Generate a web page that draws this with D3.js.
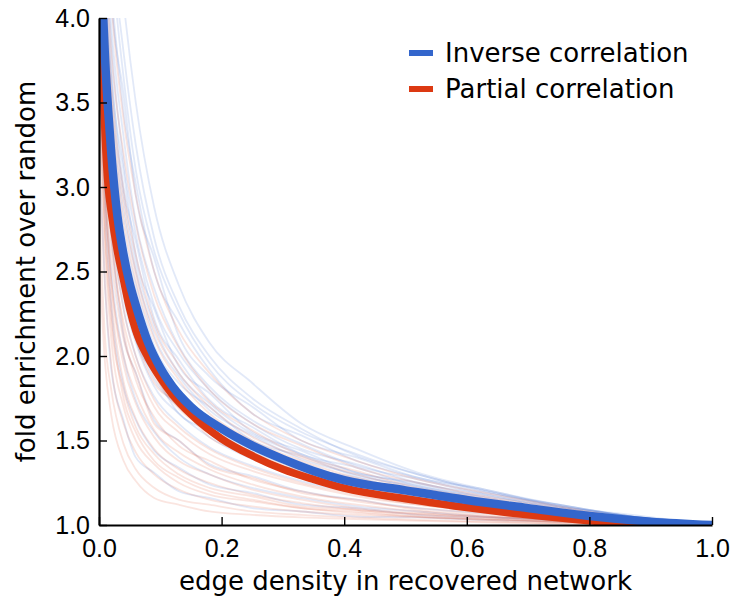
<!DOCTYPE html>
<html>
<head>
<meta charset="utf-8">
<script src="https://cdn.jsdelivr.net/npm/d3@7"></script>
<style>
  body { margin: 0; background: #fff; }
  svg { display: block; font-family: "DejaVu Sans", sans-serif; }
</style>
</head>
<body>
<div id="wrapper"></div>
<script>
// 1. Data

const meanX = [0, 0.005, 0.01, 0.015, 0.02, 0.03, 0.04, 0.05, 0.06, 0.08, 0.1, 0.12,
  0.15, 0.2, 0.25, 0.3, 0.35, 0.4, 0.5, 0.6, 0.7, 0.8, 0.9, 1.0]
const inverseMean = [4.6, 4.15, 3.75, 3.45, 3.2, 2.83, 2.6, 2.43, 2.3, 2.08, 1.93, 1.82,
  1.7, 1.57, 1.47, 1.39, 1.32, 1.265, 1.205, 1.148, 1.1, 1.053, 1.02, 1.0]
const partialMean = [4.3, 3.75, 3.3, 3.0, 2.85, 2.62, 2.45, 2.28, 2.15, 1.99, 1.87, 1.77,
  1.655, 1.51, 1.41, 1.33, 1.27, 1.218, 1.155, 1.103, 1.06, 1.025, 1.0, 1.0]

// individual runs, sampled on a coarser grid
const traceX = [0, 0.01, 0.02, 0.04, 0.06, 0.09, 0.13, 0.18, 0.25, 0.33, 0.42, 0.52, 0.63, 0.75, 0.87, 1.0]

const inverseTraces = [
  [6.0, 5.4, 4.9, 4.1, 3.5, 2.88, 2.42, 2.08, 1.84, 1.6, 1.45, 1.31, 1.21, 1.12, 1.05, 1.0],
  [5.8, 5.1, 4.5, 3.8, 3.25, 2.7, 2.3, 2.0, 1.75, 1.57, 1.41, 1.3, 1.2, 1.11, 1.05, 1.0],
  [5.7, 5.0, 4.4, 3.65, 3.1, 2.62, 2.26, 1.96, 1.72, 1.55, 1.42, 1.3, 1.2, 1.12, 1.05, 1.0],
  [5.6, 4.8, 4.2, 3.45, 3.02, 2.5, 2.2, 1.92, 1.66, 1.53, 1.38, 1.28, 1.19, 1.12, 1.05, 1.0],
  [5.5, 4.7, 4.1, 3.55, 2.95, 2.58, 2.12, 1.88, 1.7, 1.5, 1.4, 1.28, 1.21, 1.11, 1.06, 1.0],
  [5.4, 4.5, 3.95, 3.3, 2.8, 2.4, 2.06, 1.82, 1.62, 1.48, 1.35, 1.27, 1.18, 1.11, 1.05, 1.0],
  [5.3, 4.4, 3.85, 3.15, 2.72, 2.3, 2.02, 1.8, 1.6, 1.45, 1.36, 1.25, 1.18, 1.1, 1.04, 1.0],
  [5.2, 4.3, 3.7, 3.0, 2.68, 2.22, 1.98, 1.74, 1.58, 1.42, 1.34, 1.23, 1.17, 1.1, 1.04, 1.0],
  [5.1, 4.2, 3.65, 3.1, 2.6, 2.28, 1.94, 1.78, 1.55, 1.44, 1.31, 1.25, 1.16, 1.09, 1.045, 1.0],
  [5.0, 4.1, 3.55, 2.95, 2.55, 2.18, 1.9, 1.72, 1.54, 1.42, 1.31, 1.24, 1.15, 1.09, 1.04, 1.0],
  [5.0, 4.0, 3.45, 2.85, 2.5, 2.12, 1.88, 1.68, 1.53, 1.39, 1.3, 1.22, 1.15, 1.09, 1.04, 1.0],
  [4.9, 4.0, 3.4, 2.75, 2.42, 2.06, 1.84, 1.7, 1.5, 1.41, 1.29, 1.23, 1.14, 1.09, 1.04, 1.0],
  [4.8, 3.8, 3.25, 2.62, 2.34, 1.98, 1.8, 1.62, 1.47, 1.37, 1.26, 1.2, 1.13, 1.08, 1.035, 1.0],
  [4.9, 3.9, 3.2, 2.7, 2.28, 2.03, 1.76, 1.64, 1.49, 1.35, 1.28, 1.19, 1.14, 1.07, 1.03, 1.0],
  [4.7, 3.7, 3.15, 2.58, 2.25, 1.98, 1.75, 1.6, 1.48, 1.34, 1.27, 1.19, 1.13, 1.07, 1.03, 1.0],
  [4.6, 3.6, 3.05, 2.5, 2.22, 1.92, 1.72, 1.58, 1.44, 1.33, 1.25, 1.18, 1.12, 1.07, 1.03, 1.0],
  [4.4, 3.5, 2.9, 2.35, 2.08, 1.82, 1.66, 1.52, 1.39, 1.3, 1.22, 1.15, 1.1, 1.06, 1.02, 1.0],
  [4.4, 3.45, 2.95, 2.4, 2.12, 1.86, 1.7, 1.55, 1.42, 1.31, 1.23, 1.17, 1.11, 1.06, 1.025, 1.0],
  [4.5, 3.35, 2.9, 2.46, 2.1, 1.9, 1.66, 1.56, 1.4, 1.32, 1.22, 1.16, 1.1, 1.06, 1.02, 1.0],
  [4.3, 3.3, 2.8, 2.28, 2.0, 1.76, 1.6, 1.46, 1.35, 1.26, 1.19, 1.13, 1.09, 1.05, 1.02, 1.0],
  [4.2, 3.25, 2.72, 2.12, 1.9, 1.62, 1.5, 1.36, 1.29, 1.2, 1.15, 1.1, 1.07, 1.04, 1.02, 1.0],
  [3.9, 3.0, 2.5, 2.0, 1.74, 1.55, 1.4, 1.3, 1.22, 1.16, 1.11, 1.08, 1.05, 1.03, 1.015, 1.0],
  [3.7, 2.85, 2.3, 1.82, 1.62, 1.44, 1.34, 1.24, 1.19, 1.12, 1.1, 1.06, 1.045, 1.03, 1.01, 1.0],
  [3.2, 2.4, 1.92, 1.62, 1.4, 1.31, 1.2, 1.16, 1.1, 1.08, 1.05, 1.045, 1.03, 1.02, 1.01, 1.0],
]

const partialTraces = [
  [5.5, 4.7, 4.1, 3.4, 2.95, 2.5, 2.15, 1.9, 1.66, 1.5, 1.38, 1.27, 1.19, 1.11, 1.04, 1.0],
  [5.3, 4.4, 3.8, 3.2, 2.78, 2.36, 2.05, 1.8, 1.6, 1.47, 1.34, 1.25, 1.17, 1.1, 1.04, 1.0],
  [5.1, 4.2, 3.6, 2.98, 2.6, 2.2, 1.95, 1.73, 1.56, 1.41, 1.32, 1.22, 1.16, 1.08, 1.03, 1.0],
  [5.0, 4.1, 3.5, 2.9, 2.5, 2.15, 1.9, 1.7, 1.52, 1.4, 1.3, 1.21, 1.14, 1.08, 1.03, 1.0],
  [4.9, 3.95, 3.4, 2.8, 2.45, 2.1, 1.86, 1.66, 1.5, 1.38, 1.28, 1.2, 1.13, 1.07, 1.03, 1.0],
  [4.8, 3.85, 3.3, 2.7, 2.38, 2.02, 1.8, 1.63, 1.48, 1.36, 1.27, 1.2, 1.12, 1.07, 1.02, 1.0],
  [4.7, 3.7, 3.2, 2.6, 2.3, 1.96, 1.78, 1.6, 1.46, 1.34, 1.25, 1.19, 1.12, 1.06, 1.02, 1.0],
  [4.6, 3.55, 3.05, 2.52, 2.2, 1.94, 1.72, 1.57, 1.43, 1.32, 1.24, 1.17, 1.11, 1.05, 1.02, 1.0],
  [4.5, 3.5, 3.0, 2.45, 2.18, 1.9, 1.7, 1.56, 1.42, 1.31, 1.24, 1.16, 1.1, 1.05, 1.02, 1.0],
  [4.4, 3.4, 2.95, 2.42, 2.14, 1.88, 1.69, 1.55, 1.41, 1.3, 1.23, 1.16, 1.1, 1.05, 1.02, 1.0],
  [4.3, 3.45, 2.9, 2.38, 2.1, 1.84, 1.72, 1.52, 1.42, 1.29, 1.21, 1.15, 1.1, 1.06, 1.02, 1.0],
  [4.3, 3.3, 2.82, 2.28, 2.0, 1.74, 1.58, 1.45, 1.34, 1.25, 1.18, 1.12, 1.08, 1.04, 1.01, 1.0],
  [4.2, 3.3, 2.75, 2.15, 1.86, 1.64, 1.47, 1.38, 1.27, 1.2, 1.14, 1.1, 1.07, 1.04, 1.01, 1.0],
  [4.1, 3.2, 2.7, 2.2, 1.95, 1.7, 1.55, 1.42, 1.32, 1.24, 1.17, 1.12, 1.08, 1.04, 1.01, 1.0],
  [4.0, 3.1, 2.6, 2.1, 1.9, 1.6, 1.5, 1.35, 1.28, 1.19, 1.15, 1.09, 1.06, 1.03, 1.01, 1.0],
  [3.9, 3.0, 2.45, 1.95, 1.72, 1.52, 1.38, 1.3, 1.21, 1.15, 1.1, 1.07, 1.05, 1.03, 1.01, 1.0],
  [3.8, 2.95, 2.45, 2.0, 1.78, 1.56, 1.43, 1.33, 1.24, 1.17, 1.12, 1.08, 1.05, 1.03, 1.01, 1.0],
  [3.7, 2.9, 2.35, 1.85, 1.63, 1.45, 1.33, 1.25, 1.18, 1.13, 1.09, 1.065, 1.045, 1.03, 1.01, 1.0],
  [3.6, 2.7, 2.2, 1.8, 1.58, 1.42, 1.3, 1.22, 1.17, 1.11, 1.09, 1.06, 1.04, 1.02, 1.01, 1.0],
  [3.5, 2.75, 2.25, 1.75, 1.55, 1.38, 1.28, 1.2, 1.15, 1.1, 1.08, 1.05, 1.035, 1.02, 1.01, 1.0],
  [3.4, 2.6, 2.1, 1.7, 1.5, 1.36, 1.25, 1.18, 1.14, 1.1, 1.07, 1.05, 1.03, 1.02, 1.01, 1.0],
  [3.2, 2.4, 1.95, 1.6, 1.43, 1.3, 1.21, 1.15, 1.11, 1.08, 1.06, 1.045, 1.03, 1.02, 1.01, 1.0],
  [2.9, 2.1, 1.8, 1.48, 1.33, 1.22, 1.15, 1.12, 1.08, 1.06, 1.045, 1.03, 1.02, 1.01, 1.0, 1.0],
  [2.6, 1.95, 1.65, 1.38, 1.26, 1.16, 1.12, 1.08, 1.06, 1.045, 1.035, 1.025, 1.015, 1.01, 1.0, 1.0],
]

const xTicks = [0, 0.2, 0.4, 0.6, 0.8, 1.0]
const yTicks = [1.0, 1.5, 2.0, 2.5, 3.0, 3.5, 4.0]
const seriesNames = ["Inverse correlation", "Partial correlation"]
const seriesColors = ["#3366cc", "#dc3912"]

// 2. Dimensions

const dimensions = {
  width: 737,
  height: 601,
  margins: { top: 18, right: 25, bottom: 76, left: 99 },
}
dimensions.boundedWidth = dimensions.width - dimensions.margins.left - dimensions.margins.right
dimensions.boundedHeight = dimensions.height - dimensions.margins.top - dimensions.margins.bottom

// 3. Canvas

const wrapper = d3.select("#wrapper")
  .append("svg")
    .attr("width", dimensions.width)
    .attr("height", dimensions.height)

const bounds = wrapper.append("g")
  .attr("transform", `translate(${dimensions.margins.left},${dimensions.margins.top})`)

bounds.append("clipPath")
    .attr("id", "plot-clip")
  .append("rect")
    .attr("width", dimensions.boundedWidth)
    .attr("height", dimensions.boundedHeight)

// 4. Scales

const xScale = d3.scaleLinear()
  .domain([0, 1])
  .range([0, dimensions.boundedWidth])

const yScale = d3.scaleLinear()
  .domain([1, 4])
  .range([dimensions.boundedHeight, 0])

const lineGen = xs => d3.line()
  .x((d, i) => xScale(xs[i]))
  .y(d => yScale(d))
  .curve(d3.curveMonotoneX)

// 5. Data

const plot = bounds.append("g").attr("clip-path", "url(#plot-clip)")

plot.append("g").selectAll("path")
  .data(inverseTraces)
  .join("path")
    .attr("d", lineGen(traceX))
    .attr("fill", "none")
    .attr("stroke", seriesColors[0])
    .attr("stroke-opacity", 0.14)
    .attr("stroke-width", 1.8)

plot.append("g").selectAll("path")
  .data(partialTraces)
  .join("path")
    .attr("d", lineGen(traceX))
    .attr("fill", "none")
    .attr("stroke", seriesColors[1])
    .attr("stroke-opacity", 0.13)
    .attr("stroke-width", 1.8)

plot.append("path")
  .attr("d", lineGen(meanX)(partialMean))
  .attr("fill", "none")
  .attr("stroke", seriesColors[1])
  .attr("stroke-width", 7.5)

plot.append("path")
  .attr("d", lineGen(meanX)(inverseMean))
  .attr("fill", "none")
  .attr("stroke", seriesColors[0])
  .attr("stroke-width", 8.5)

// 6. Peripherals

const xAxis = bounds.append("g")
  .attr("transform", `translate(0,${dimensions.boundedHeight})`)
  .call(d3.axisBottom(xScale).tickValues(xTicks).tickFormat(d3.format(".1f"))
    .tickSizeInner(-8).tickSizeOuter(0).tickPadding(14))
xAxis.select(".domain").attr("stroke-width", 2.2)
xAxis.selectAll(".tick line").attr("stroke-width", 1.4)
xAxis.selectAll("text").style("font-size", "25px").attr("fill", "#000")

const yAxis = bounds.append("g")
  .call(d3.axisLeft(yScale).tickValues(yTicks).tickFormat(d3.format(".1f"))
    .tickSizeInner(-8).tickSizeOuter(0).tickPadding(9))
yAxis.select(".domain").attr("stroke-width", 2.2)
yAxis.selectAll(".tick line").attr("stroke-width", 1.4)
yAxis.selectAll("text").style("font-size", "25px").attr("fill", "#000")

bounds.append("text")
  .attr("x", dimensions.boundedWidth / 2)
  .attr("y", dimensions.boundedHeight + 65)
  .attr("text-anchor", "middle")
  .style("font-size", "26px")
  .text("edge density in recovered network")

bounds.append("text")
  .attr("transform", `translate(${35 - dimensions.margins.left},${dimensions.boundedHeight / 2}) rotate(-90)`)
  .attr("text-anchor", "middle")
  .style("font-size", "26px")
  .text("fold enrichment over random")

const legend = wrapper.append("g").attr("transform", "translate(409,53)")
const legendItems = legend.selectAll("g")
  .data(seriesNames)
  .join("g")
    .attr("transform", (d, i) => `translate(0,${i * 36})`)
legendItems.append("line")
  .attr("x1", 0).attr("x2", 24)
  .attr("stroke", (d, i) => seriesColors[i])
  .attr("stroke-width", 6)
legendItems.append("text")
  .attr("x", 36)
  .attr("dy", "0.35em")
  .style("font-size", "26px")
  .text(d => d)
</script>
</body>
</html>
